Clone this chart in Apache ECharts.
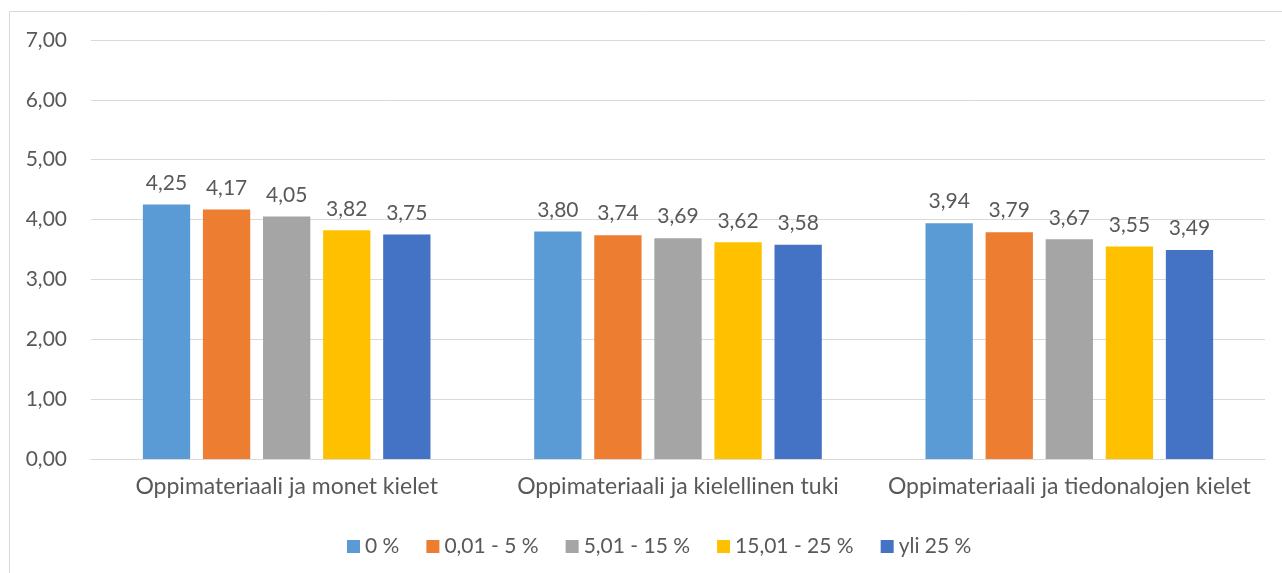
<!DOCTYPE html>
<html>
<head>
<meta charset="utf-8">
<script src="https://cdn.jsdelivr.net/npm/echarts@6/dist/echarts.min.js"></script>
<style>
  html, body { margin: 0; padding: 0; background: #fff; }
  #chart { width: 1282px; height: 573px; }
</style>
</head>
<body>
<div id="chart"></div>
<script>
// Oppimateriaalin arviot ryhmittäin (keskiarvot)
const categories = [
  'Oppimateriaali ja monet kielet',
  'Oppimateriaali ja kielellinen tuki',
  'Oppimateriaali ja tiedonalojen kielet'
];
const seriesNames = ['0 %', '0,01 - 5 %', '5,01 - 15 %', '15,01 - 25 %', 'yli 25 %'];
const values0 = [4.25, 3.80, 3.94];
const values1 = [4.17, 3.74, 3.79];
const values2 = [4.05, 3.69, 3.67];
const values3 = [3.82, 3.62, 3.55];
const values4 = [3.75, 3.58, 3.49];
const colors = ['#5B9BD5', '#ED7D31', '#A5A5A5', '#FFC000', '#4472C4'];

const allValues = [values0, values1, values2, values3, values4];
const textColor = '#595959';
const fontFamily = 'Lato, "Open Sans", sans-serif';
const fmt = v => v.toFixed(2).replace('.', ',');

const chart = echarts.init(document.getElementById('chart'));
chart.setOption({
  animation: false,
  color: colors,
  graphic: [{
    type: 'rect',
    shape: { x: 9.5, y: 11.5, width: 1400, height: 700 },
    style: { fill: 'none', stroke: '#D9D9D9', lineWidth: 1 },
    silent: true
  }],
  grid: { left: 91, right: 17, top: 40, bottom: 114, containLabel: false },
  legend: {
    top: 531,
    left: 342,
    itemWidth: 13,
    itemHeight: 13,
    itemGap: 27,
    icon: 'rect',
    textStyle: { color: textColor, fontSize: 21, fontFamily: fontFamily },
    data: seriesNames
  },
  xAxis: {
    type: 'category',
    data: categories,
    axisTick: { show: false },
    axisLine: { lineStyle: { color: '#D9D9D9', width: 1 } },
    axisLabel: {
      interval: 0,
      hideOverlap: false,
      color: textColor,
      fontSize: 23,
      fontFamily: fontFamily,
      margin: 16
    }
  },
  yAxis: {
    type: 'value',
    min: 0,
    max: 7,
    interval: 1,
    axisLine: { show: false },
    axisTick: { show: false },
    splitLine: { lineStyle: { color: '#D9D9D9', width: 1 } },
    axisLabel: { color: textColor, fontSize: 21, fontFamily: fontFamily, margin: 24, formatter: v => fmt(v) }
  },
  series: seriesNames.map((name, i) => ({
    name: name,
    type: 'bar',
    data: allValues[i],
    barGap: '27%',
    barCategoryGap: '26.5%',
    label: {
      show: true,
      position: 'top',
      distance: 11,
      color: textColor,
      fontSize: 21,
      fontFamily: fontFamily,
      formatter: p => fmt(p.value)
    }
  }))
});
</script>
</body>
</html>
